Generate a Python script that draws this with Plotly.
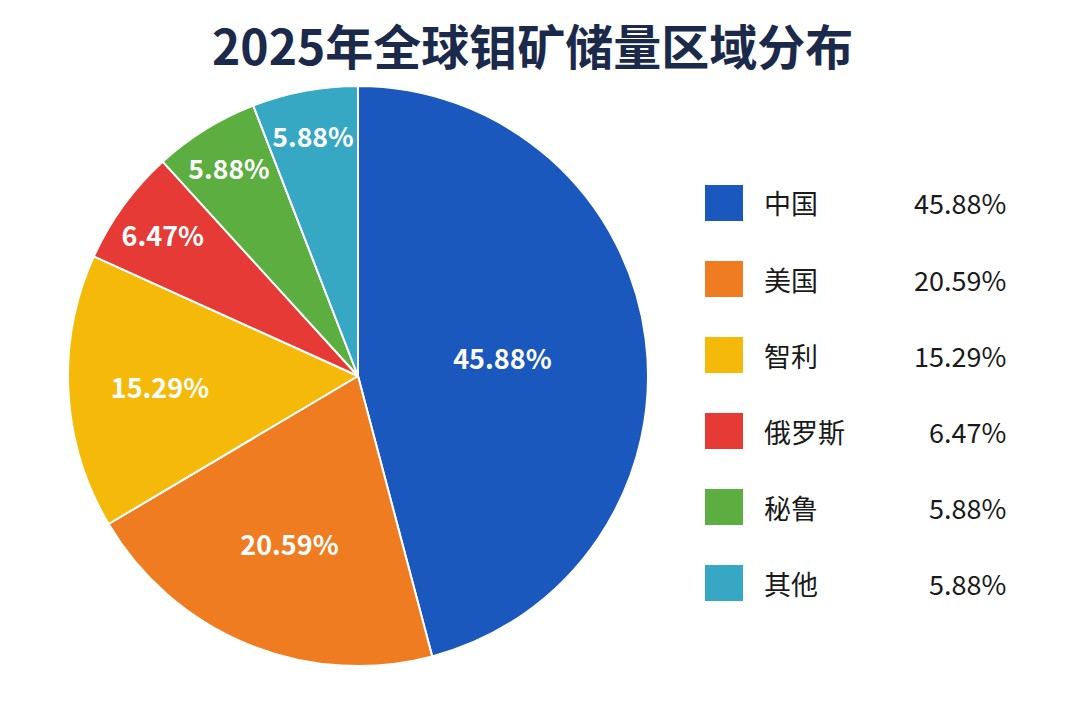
import plotly.graph_objects as go

# data
regions = ['中国', '美国', '智利', '俄罗斯', '秘鲁', '其他']
shares = [45.88, 20.59, 15.29, 6.47, 5.88, 5.88]
colors = ['#1a58bd', '#f07c22', '#f5b90a', '#e53a35', '#5cae40', '#36a8c4']

title_text = '2025年全球钼矿储量区域分布'
font_cjk = 'Noto Sans CJK SC'

W, H = 1080, 720
OFF = 8  # page body margin shifts the figure by 8px


def px_x(x):
    return (x - OFF) / W


def px_y(y):
    return 1 - (y - OFF) / H


fig = go.Figure()

fig.add_trace(go.Pie(
    labels=regions,
    values=shares,
    text=[f'<b>{v:.2f}%</b>' for v in shares],
    textinfo='text',
    textposition='inside',
    insidetextorientation='horizontal',
    insidetextfont=dict(color='white', size=27, family=font_cjk),
    marker=dict(colors=colors, line=dict(color='white', width=2)),
    sort=False,
    direction='clockwise',
    rotation=0,
    hole=0,
    domain=dict(x=[px_x(358 - 290), px_x(358 + 290)],
                y=[px_y(376 + 290), px_y(376 - 290)]),
    showlegend=False,
))

# custom legend on the right: square, name, share
row_top = 203
row_step = 76
shapes = []
annotations = []
for i, (name, val, col) in enumerate(zip(regions, shares, colors)):
    yc = row_top + i * row_step
    shapes.append(dict(
        type='rect', xref='paper', yref='paper',
        x0=px_x(705), x1=px_x(743),
        y0=px_y(yc + 18), y1=px_y(yc - 18),
        fillcolor=col, line=dict(width=0),
    ))
    annotations.append(dict(
        text=name, xref='paper', yref='paper',
        x=px_x(762), y=px_y(yc), xanchor='left', yanchor='middle',
        showarrow=False, font=dict(size=27, color='#1a1a1a', family=font_cjk),
    ))
    annotations.append(dict(
        text=f'{val:.2f}%', xref='paper', yref='paper',
        x=px_x(1008), y=px_y(yc), xanchor='right', yanchor='middle',
        showarrow=False, font=dict(size=27, color='#1a1a1a', family=font_cjk),
    ))

# title as an annotation so its box sits fully inside the figure
annotations.append(dict(
    text=f'<b>{title_text}</b>', xref='paper', yref='paper',
    x=px_x(532), y=px_y(44), xanchor='center', yanchor='middle',
    showarrow=False, font=dict(size=48, color='#1b2a4a', family=font_cjk),
))

fig.update_layout(
    width=W,
    height=H,
    paper_bgcolor='white',
    plot_bgcolor='white',
    margin=dict(l=0, r=0, t=0, b=0),
    shapes=shapes,
    annotations=annotations,
)

fig.write_html('out.html')
